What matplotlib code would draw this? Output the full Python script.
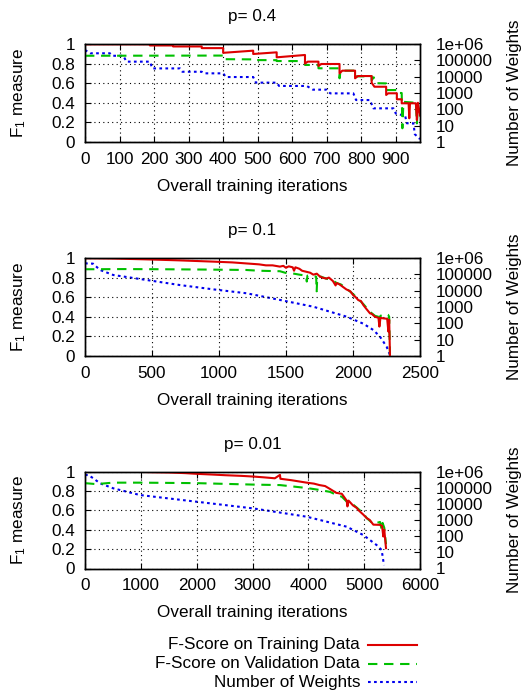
import numpy as np
import matplotlib
matplotlib.use("Agg")
import matplotlib.pyplot as plt
from matplotlib.lines import Line2D
from matplotlib.ticker import FixedLocator, FixedFormatter, LogLocator, NullFormatter

plt.rcParams['font.family'] = ['Liberation Sans', 'DejaVu Sans']
plt.rcParams['mathtext.fontset'] = 'custom'
plt.rcParams['mathtext.rm'] = 'Liberation Sans'
plt.rcParams['mathtext.it'] = 'Liberation Sans:italic'

# ---- p = 0.4 ----
p04_train_it = [0, 188, 188, 255, 255, 338, 338, 400, 400, 487, 487, 555, 555, 637, 637, 645, 676, 676, 684,
                737, 737, 745, 782, 782, 790, 830, 830, 838, 872, 872, 878, 903, 903, 917, 917, 937, 939, 941,
                958, 961, 964, 970]
p04_train = [0.997, 0.997, 0.985, 0.985, 0.975, 0.975, 0.958, 0.958, 0.91, 0.932, 0.898, 0.915, 0.864, 0.888,
             0.80, 0.82, 0.82, 0.776, 0.796, 0.796, 0.70, 0.728, 0.728, 0.65, 0.673, 0.673, 0.605, 0.564,
             0.564, 0.48, 0.497, 0.497, 0.436, 0.436, 0.395, 0.395, 0.242, 0.395, 0.395, 0.224, 0.40, 0.27]
p04_valid_it = [0, 400, 400, 487, 487, 555, 555, 637, 637, 676, 676, 737, 737, 740, 782, 782, 830, 830, 836,
                842, 872, 872, 903, 903, 917, 919, 922, 958, 961, 964, 970]
p04_valid = [0.88, 0.882, 0.845, 0.843, 0.836, 0.835, 0.826, 0.826, 0.786, 0.786, 0.752, 0.752, 0.65, 0.728,
             0.728, 0.67, 0.67, 0.63, 0.66, 0.60, 0.598, 0.53, 0.53, 0.50, 0.50, 0.14, 0.41, 0.40, 0.19,
             0.36, 0.29]
p04_w_it = [0, 15, 72, 80, 111, 120, 188, 195, 275, 282, 338, 345, 400, 408, 487, 495, 555, 562, 642, 660,
            700, 710, 777, 785, 825, 835, 893, 900, 927, 932, 951, 955, 970]
p04_w = [430000, 270000, 270000, 190000, 190000, 83000, 83000, 32000, 32000, 20000, 20000, 16000, 16000,
         9500, 9500, 4300, 4300, 2700, 2700, 1600, 1600, 950, 950, 370, 370, 115, 115, 55, 40, 14, 14, 3, 1.5]

# ---- p = 0.1 ----
p01_train_it = [0, 200, 460, 700, 958, 1100, 1200, 1250, 1300, 1350, 1400, 1455, 1480, 1500, 1520, 1550, 1560,
                1570, 1600, 1620, 1650, 1680, 1704, 1730, 1750, 1770, 1800, 1820, 1850, 1870, 1878, 1900,
                1920, 1950, 1980, 2002, 2020, 2040, 2060, 2077, 2100, 2127, 2140, 2164, 2190, 2197, 2205,
                2226, 2255, 2264, 2270, 2276]
p01_train = [0.998, 0.995, 0.986, 0.976, 0.963, 0.955, 0.945, 0.94, 0.935, 0.925, 0.925, 0.912, 0.92, 0.90,
             0.915, 0.905, 0.87, 0.905, 0.89, 0.87, 0.86, 0.85, 0.83, 0.84, 0.815, 0.80, 0.79, 0.80, 0.765,
             0.72, 0.745, 0.73, 0.71, 0.68, 0.66, 0.62, 0.60, 0.57, 0.56, 0.52, 0.48, 0.435, 0.43, 0.40,
             0.39, 0.30, 0.39, 0.384, 0.38, 0.25, 0.37, 0.0]
p01_valid_it = [0, 300, 600, 900, 1200, 1300, 1455, 1505, 1560, 1600, 1650, 1655, 1660, 1700, 1725, 1729, 1733,
                1760, 1800, 1830, 1850, 1878, 1910, 1950, 2002, 2040, 2077, 2127, 2164, 2190, 2197, 2205,
                2240, 2262, 2270, 2276]
p01_valid = [0.885, 0.887, 0.885, 0.882, 0.878, 0.87, 0.865, 0.845, 0.84, 0.83, 0.82, 0.76, 0.82, 0.815,
             0.81, 0.66, 0.80, 0.81, 0.79, 0.78, 0.77, 0.745, 0.73, 0.69, 0.63, 0.58, 0.53, 0.45, 0.41, 0.40,
             0.33, 0.41, 0.43, 0.42, 0.40, 0.0]
p01_w_it = [0, 60, 112, 211, 460, 709, 958, 1207, 1455, 1704, 1953, 2077, 2152, 2202, 2251, 2276]
p01_w = [470000, 450000, 185000, 91000, 45000, 22000, 12000, 6900, 2700, 1040, 255, 95, 39, 15, 3.7, 1.15]

# ---- p = 0.01 ----
p001_train_it = [0, 955, 1200, 1500, 1800, 2000, 2300, 2500, 2800, 3015, 3200, 3400, 3492, 3500, 3700, 3970,
                 4100, 4200, 4300, 4388, 4500, 4600, 4687, 4700, 4720, 4800, 4866, 4900, 4985, 5045, 5100,
                 5164, 5284, 5320, 5343, 5360, 5391]
p001_train = [0.998, 0.996, 0.993, 0.99, 0.983, 0.976, 0.968, 0.962, 0.955, 0.948, 0.94, 0.93, 0.965, 0.925,
              0.91, 0.885, 0.875, 0.86, 0.85, 0.82, 0.78, 0.77, 0.70, 0.64, 0.70, 0.65, 0.625, 0.60, 0.555,
              0.52, 0.50, 0.452, 0.45, 0.44, 0.33, 0.40, 0.21]
p001_valid_it = [0, 200, 500, 1000, 2000, 3015, 3492, 3970, 4200, 4388, 4500, 4600, 4687, 4800, 4985, 5045,
                 5164, 5284, 5313, 5330, 5360, 5391]
p001_valid = [0.88, 0.87, 0.885, 0.885, 0.88, 0.865, 0.86, 0.83, 0.81, 0.79, 0.76, 0.74, 0.69, 0.66, 0.57,
              0.52, 0.46, 0.48, 0.40, 0.47, 0.42, 0.25]
p001_w_it = [0, 60, 149, 269, 507, 985, 2000, 3015, 3970, 4687, 4985, 5224, 5313, 5355]
p001_w = [610000, 600000, 380000, 185000, 91000, 35000, 13500, 5200, 1600, 385, 117, 28, 14, 1.6]

titles = ["p= 0.4", "p= 0.1", "p= 0.01"]
xlims = [970, 2500, 6000]
xticks = [list(range(0, 901, 100)), list(range(0, 2501, 500)), list(range(0, 6001, 1000))]
f_ticks = [0, 0.2, 0.4, 0.6, 0.8, 1]
f_labels = ["0", "0.2", "0.4", "0.6", "0.8", "1"]
w_ticks = [1, 10, 100, 1000, 10000, 100000, 1000000]
w_labels = ["1", "10", "100", "1000", "10000", "100000", "1e+06"]
legend_labels = ["F-Score on Training Data", "F-Score on Validation Data", "Number of Weights"]

panels = [
    (p04_train_it, p04_train, p04_valid_it, p04_valid, p04_w_it, p04_w),
    (p01_train_it, p01_train, p01_valid_it, p01_valid, p01_w_it, p01_w),
    (p001_train_it, p001_train, p001_valid_it, p001_valid, p001_w_it, p001_w),
]

RED = '#dd0000'
GREEN = '#00c000'
BLUE = '#0000ee'
FS = 12.3
LW = 1.5
W, H = 523, 690

fig = plt.figure(figsize=(W / 100, H / 100), dpi=100)

# axes boxes in pixels: (left, top, right, bottom)
boxes = [(85, 44, 420, 142), (85, 258, 420, 356), (85, 471.5, 420, 568.5)]

for i, (box, data) in enumerate(zip(boxes, panels)):
    l, t, r, b = box
    ax = fig.add_axes([l / W, 1 - b / H, (r - l) / W, (b - t) / H])
    tr_it, tr, va_it, va, w_it, w = data
    ax2 = ax.twinx()
    ax2.set_yscale('log')
    ax2.set_ylim(1, 1e6)
    ax2.plot(w_it, w, color=BLUE, lw=LW, ls=(0, (1.3, 1.6)))
    ax.plot(va_it, va, color=GREEN, lw=LW, ls=(0, (4.5, 3.2)))
    ax.plot(tr_it, tr, color=RED, lw=LW)
    ax.set_zorder(ax2.get_zorder() + 1)
    ax.patch.set_visible(False)

    ax.set_xlim(0, xlims[i])
    ax.set_ylim(0, 1)
    ax.xaxis.set_major_locator(FixedLocator(xticks[i]))
    ax.set_xticklabels([str(v) for v in xticks[i]])
    ax.yaxis.set_major_locator(FixedLocator(f_ticks))
    ax.yaxis.set_major_formatter(FixedFormatter(f_labels))
    ax.grid(True, color='black', ls=(0, (1, 3)), lw=0.8)
    ax.tick_params(axis='x', direction='in', top=True, length=4, width=0.8, labelsize=FS, pad=7)
    ax.tick_params(axis='y', direction='in', right=False, length=4, width=0.8, labelsize=FS, pad=7)

    ax2.yaxis.set_major_locator(FixedLocator(w_ticks))
    ax2.yaxis.set_major_formatter(FixedFormatter(w_labels))
    ax2.yaxis.set_minor_locator(LogLocator(base=10, subs=np.arange(2, 10)))
    ax2.yaxis.set_minor_formatter(NullFormatter())
    ax2.tick_params(axis='y', which='major', direction='in', length=4, width=0.8, labelsize=FS, pad=11)
    ax2.tick_params(axis='y', which='minor', direction='in', length=2, width=0.6)

    for a in (ax, ax2):
        for s in a.spines.values():
            s.set_linewidth(1.0)

    h = b - t
    ax.text(0.5, 1 + 27 / h, titles[i], transform=ax.transAxes, ha='center', va='center', fontsize=FS)
    ax.text(0.5, -44 / h, "Overall training iterations", transform=ax.transAxes, ha='center',
            va='center', fontsize=FS)
    yc = 1 - (t + b) / 2 / H
    fig.text(9 / W, yc, r"F$_\mathrm{1}$ measure", rotation=90, ha='left', va='center', fontsize=FS)
    fig.text(507 / W, yc, "Number of Weights", rotation=90, ha='left', va='center', fontsize=FS)

# legend at the bottom: text right-aligned, line sample to the right
styles = [dict(color=RED, lw=LW), dict(color=GREEN, lw=LW, ls=(0, (4.5, 3.2))),
          dict(color=BLUE, lw=LW, ls=(0, (1.3, 1.6)))]
for k, (lab, st) in enumerate(zip(legend_labels, styles)):
    yy = 1 - (645 + 18.5 * k) / H
    fig.text(360 / W, yy, lab, ha='right', va='center', fontsize=FS)
    fig.add_artist(Line2D([368 / W, 417 / W], [yy, yy], transform=fig.transFigure, **st))

fig.savefig("out.png", dpi=100)
